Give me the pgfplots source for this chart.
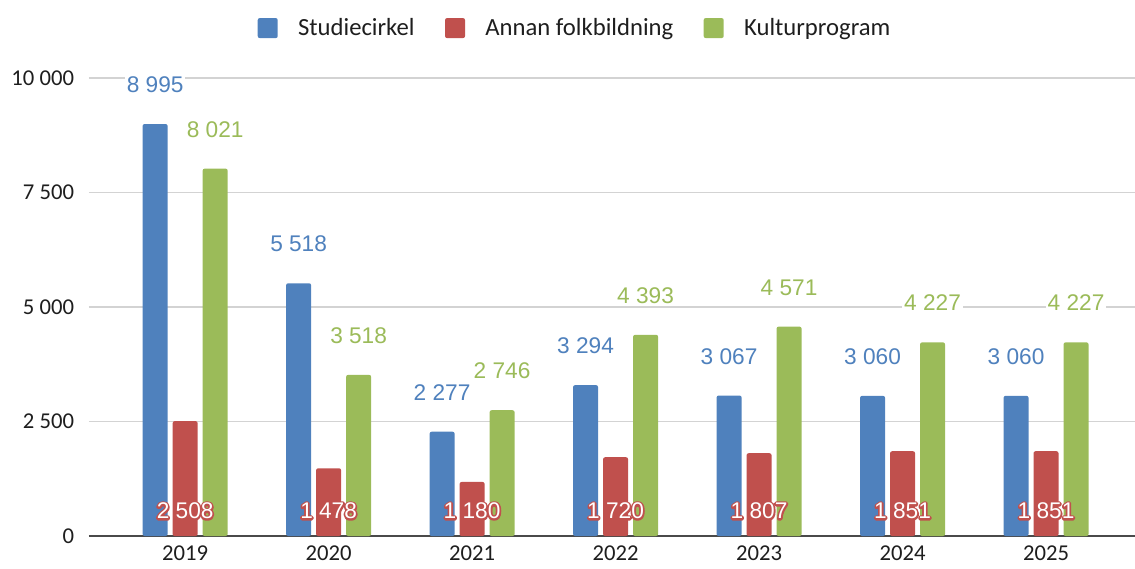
\documentclass[border=0pt]{standalone}
\usepackage{pgfplots}
\pgfplotsset{compat=1.18}
\usepackage{fontspec}
\setmainfont{Carlito}
\newfontfamily\labfont{Liberation Sans}
\definecolor{cblue}{HTML}{4F81BD}
\definecolor{cred}{HTML}{C0504D}
\definecolor{cgreen}{HTML}{9BBB59}
\definecolor{cgrid}{HTML}{D3D3D3}
\definecolor{caxis}{HTML}{4A4A4A}
\definecolor{ctext}{HTML}{1E1E1E}
% stroked text, used for the red halo behind the white base labels
\newcommand\stroked[1]{\special{pdf:literal direct 1 j 2.6 w 2 Tr}#1\special{pdf:literal direct 0 Tr}}
\newcommand\labsize{\labfont\fontsize{17}{20}\selectfont}

% 1 px of the reference = 0.75pt
\begin{document}
\begin{tikzpicture}
\useasboundingbox (-66.75pt,-24pt) rectangle (784.5pt,402pt);
\begin{axis}[
    scale only axis, width=784.5pt, height=343.5pt,
    xmin=-0.67, xmax=6.62, ymin=0, ymax=10000,
    clip=false,
    axis lines*=left,
    x axis line style={caxis, line width=1.4pt, -},
    y axis line style={draw=none},
    ymajorgrids, grid style={cgrid, line width=1.4pt},
    major tick length=0pt,
    xtick={0,...,6}, xticklabels={2019,2020,2021,2022,2023,2024,2025},
    ytick={0,2500,5000,7500,10000},
    scaled y ticks=false,
    /pgf/number format/.cd, 1000 sep={\ }, assume math mode=true, /pgfplots/.cd,
    xticklabel style={font=\fontsize{17}{20}\selectfont, text=ctext, inner sep=0pt, anchor=north, yshift=-7.5pt},
    yticklabel style={font=\fontsize{17}{20}\selectfont, text=ctext, inner sep=0pt, anchor=east, xshift=-11pt},
    legend style={draw=none, fill=none, at={(0.465,1.109)}, anchor=center,
        font=\fontsize{18.5}{20}\selectfont, text=ctext,
        /tikz/every odd column/.append style={column sep=13.3pt},
        /tikz/every even column/.append style={column sep=20.8pt}},
    legend columns=-1,
    legend image code/.code={\fill[#1] (0pt,-7.5pt) rectangle (15pt,7.5pt);},
    bar width=18.75pt,
]
\addplot[ybar, bar shift=-22.5pt, fill=cblue, draw=none, rounded corners=1.5pt,
    nodes near coords,
    every node near coord/.append style={anchor=center, xshift=-22.5pt, yshift=29.5pt,
        text=cblue, fill=white, inner sep=1.5pt, rounded corners=0pt, font=\labsize}]
    coordinates {(0,8995) (1,5518) (2,2277) (3,3294) (4,3067) (5,3060) (6,3060)};
\addlegendentry{Studiecirkel}
\addplot[ybar, bar shift=0pt, fill=cred, draw=none, rounded corners=1.5pt]
    coordinates {(0,2508) (1,1478) (2,1180) (3,1720) (4,1807) (5,1851) (6,1851)};
\addlegendentry{Annan folkbildning}
\addplot[ybar, bar shift=22.5pt, fill=cgreen, draw=none, rounded corners=1.5pt,
    nodes near coords,
    every node near coord/.append style={anchor=center, xshift=22.5pt, yshift=29.5pt,
        text=cgreen, fill=white, inner sep=1.5pt, rounded corners=0pt, font=\labsize}]
    coordinates {(0,8021) (1,3518) (2,2746) (3,4393) (4,4571) (5,4227) (6,4227)};
\addlegendentry{Kulturprogram}
% red value labels near the base of the bars: red outline first, white text on top
\addplot[draw=none, mark=none, forget plot, point meta=explicit,
    nodes near coords={\stroked{\pgfmathprintnumber{\pgfplotspointmeta}}},
    every node near coord/.append style={anchor=center, text=cred, font=\labsize}]
    coordinates {(0,546) [2508] (1,546) [1478] (2,546) [1180] (3,546) [1720]
                 (4,546) [1807] (5,546) [1851] (6,546) [1851]};
\addplot[draw=none, mark=none, forget plot, point meta=explicit,
    nodes near coords,
    every node near coord/.append style={anchor=center, text=white, font=\labsize}]
    coordinates {(0,546) [2508] (1,546) [1478] (2,546) [1180] (3,546) [1720]
                 (4,546) [1807] (5,546) [1851] (6,546) [1851]};
\end{axis}
\end{tikzpicture}
\end{document}
